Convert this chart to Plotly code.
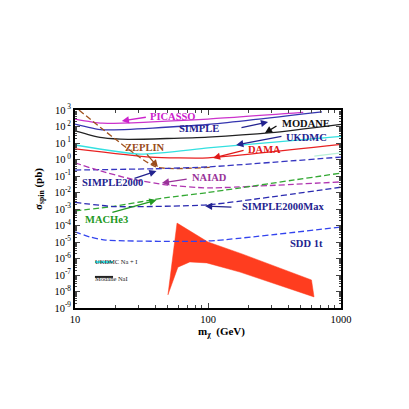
import numpy as np
import plotly.graph_objects as go

# WIMP mass (GeV) and spin-dependent cross-section limits (pb)
picasso_m = [10, 16, 100, 520]
picasso_s = [282, 158, 282, 708]
simple_m = [10, 16, 100, 720]
simple_s = [141, 63, 132, 760]
modane_m = [10, 13, 16, 25, 100, 300, 1000]
modane_s = [54, 30, 21, 16.6, 23, 42, 135]
ukdmc_m = [10, 31, 100, 1000]
ukdmc_s = [7.6, 2.1, 5.0, 25]
dama_m = [10, 37, 100, 1000]
dama_s = [4.4, 1.4, 1.26, 8.3]
faint_m = [630, 1000]
faint_s = [1.6, 2.5]
zeplin_m = [10.7, 40.6, 105]
zeplin_s = [1000, 0.355, 0.34]
simple2000_m = [10, 40, 100, 1000]
simple2000_s = [0.23, 0.275, 0.355, 1.4]
naiad_m = [10, 15, 27, 50, 100, 1000]
naiad_s = [0.63, 0.22, 0.063, 0.028, 0.019, 0.044]
mache3_m = [10, 20, 47, 100, 1000]
mache3_s = [7.6e-4, 1.5e-3, 4.7e-3, 1.0e-2, 0.15]
simple2000max_m = [10, 20, 100, 1000]
simple2000max_s = [2.5e-3, 1.4e-3, 1.8e-3, 2.1e-2]
sdd_m = [10, 13, 17, 100, 1000]
sdd_s = [4.1e-5, 2.0e-5, 1.3e-5, 1.15e-5, 8.1e-5]

# allowed region (closed outline)
region_m = [50, 58.5, 100, 180, 600, 627, 174, 98, 73, 59.4, 50]
region_s = [6.3e-9, 1.4e-4, 1.0e-5, 1.9e-6, 5.0e-8, 4.7e-9, 1.5e-7, 5.4e-7, 6.2e-7, 3.0e-7, 6.3e-9]

y_exps = list(range(-9, 4))
y_ticktext = ["10<sup>%s</sup>" % (e if e < 0 else " %d" % e) for e in y_exps]
x_tickvals = [10, 100, 1000]
x_ticktext = ["10", "100", "1000"]

NAVY = "#23238f"
SERIF = "Liberation Serif"

fig = go.Figure()

fig.add_trace(go.Scatter(x=region_m, y=region_s, mode="lines", fill="toself",
                         fillcolor="#ff3d1f", line=dict(color="#ff3d1f", width=0.5)))

solid = [
    (picasso_m, picasso_s, "#cc33cc"),
    (simple_m, simple_s, "#3535b0"),
    (modane_m, modane_s, "#222222"),
    (ukdmc_m, ukdmc_s, "#33e0e0"),
    (dama_m, dama_s, "#e82222"),
    (faint_m, faint_s, "#b8f0d8"),
]
for m, s, c in solid:
    fig.add_trace(go.Scatter(x=m, y=s, mode="lines", line=dict(color=c, width=1.3, shape="spline", smoothing=0.5)))

dashed = [
    (zeplin_m, zeplin_s, "#a0521e"),
    (simple2000_m, simple2000_s, "#3535c0"),
    (naiad_m, naiad_s, "#b035b0"),
    (mache3_m, mache3_s, "#33a833"),
    (simple2000max_m, simple2000max_s, "#2a2ab0"),
    (sdd_m, sdd_s, "#3344ee"),
]
for m, s, c in dashed:
    fig.add_trace(go.Scatter(x=m, y=s, mode="lines",
                             line=dict(color=c, width=1.3, dash="6px,3px", shape="spline", smoothing=0.5)))

# labels: (text, text position, arrow tail, arrow head, colour)
labels = [
    ("PICASSO", (55, 430), (35, 376), (22.5, 215), "#cc22cc"),
    ("SIMPLE", (86, 81), (174, 81), (283, 187), NAVY),
    ("MODANE", (546, 163), (336, 123), (268, 40), "#111111"),
    ("UKDMC", (555, 23), (366, 26.5), (163, 7.6), NAVY),
    ("DAMA", (264, 4.3), (190, 3.8), (109, 1.23), "#e01818"),
    ("ZEPLIN", (33.6, 5.7), (34, 2.5), (42, 0.35), "#9a4c1a"),
    ("SIMPLE2000", (19.3, 0.0377), (27.3, 0.066), (41, 0.2), NAVY),
    ("NAIAD", (103, 0.076), (71, 0.066), (45, 0.038), "#993399"),
    ("MACHe3", (17.4, 2.2e-4), (18.6, 5.8e-4), (41, 3.5e-3), "#229922"),
    ("SIMPLE2000Max", (366, 1.5e-3), (154, 1.3e-3), (95, 1.5e-3), NAVY),
    ("SDD 1t", (555, 8.7e-6), None, None, NAVY),
]
for text, pos, tail, head, c in labels:
    fig.add_annotation(x=np.log10(pos[0]), y=np.log10(pos[1]), xref="x", yref="y",
                       text="<b>%s</b>" % text, showarrow=False,
                       font=dict(family=SERIF, size=10.5, color=c))
    if tail is not None:
        fig.add_annotation(x=np.log10(head[0]), y=np.log10(head[1]),
                           ax=np.log10(tail[0]), ay=np.log10(tail[1]),
                           xref="x", yref="y", axref="x", ayref="y", text="",
                           showarrow=True, arrowhead=2, arrowsize=1.1, arrowwidth=1.3,
                           arrowcolor=c)

# small in-plot key
key = [("UKDMC Na + I", "#33e0e0", 0.232, 0.205), ("Modane NaI", "#222222", 0.157, 0.122)]
for text, c, yl, yt in key:
    fig.add_shape(type="line", xref="paper", yref="paper", x0=0.075, x1=0.143, y0=yl, y1=yl,
                  line=dict(color=c, width=2))
    fig.add_annotation(xref="paper", yref="paper", x=0.068, y=yt, xanchor="left", text=text,
                       showarrow=False, font=dict(family=SERIF, size=6.5, color="#222222"))

fig.add_annotation(xref="paper", yref="paper", x=0.55, y=-0.075, yanchor="top", showarrow=False,
                   text="<b>m<sub>χ</sub>  (GeV)</b>", font=dict(family=SERIF, size=11, color="black"))
fig.add_annotation(xref="paper", yref="paper", x=-0.17, y=0.6, showarrow=False, textangle=-90,
                   text="<b>σ<sub>spin</sub> (pb)</b>", font=dict(family=SERIF, size=11, color="black"))

x_minor = [k * 10 ** e for e in (1, 2) for k in range(2, 10)]
y_minor = [k * 10.0 ** e for e in range(-9, 3) for k in range(2, 10)]

fig.update_xaxes(type="log", range=[1, 3], tickvals=x_tickvals, ticktext=x_ticktext,
                 ticks="inside", ticklen=5, tickwidth=1, mirror="allticks",
                 showline=True, linecolor="black", linewidth=1.8, showgrid=False, zeroline=False,
                 minor=dict(tickvals=x_minor, ticks="inside", ticklen=3, showgrid=False),
                 tickfont=dict(family=SERIF, size=10.5, color="black"))
fig.update_yaxes(type="log", range=[-9, 3], tickvals=[10.0 ** e for e in y_exps], ticktext=y_ticktext,
                 ticks="inside", ticklen=5, tickwidth=1, mirror="allticks",
                 showline=True, linecolor="black", linewidth=1.8, showgrid=False, zeroline=False,
                 minor=dict(tickvals=y_minor, ticks="inside", ticklen=2.5, showgrid=False),
                 tickfont=dict(family=SERIF, size=10.5, color="black"))

fig.update_layout(
    width=409, height=409,
    margin=dict(l=67, r=76, t=102, b=109),
    plot_bgcolor="white", paper_bgcolor="white",
    showlegend=False,
)

fig.write_html("out.html")
